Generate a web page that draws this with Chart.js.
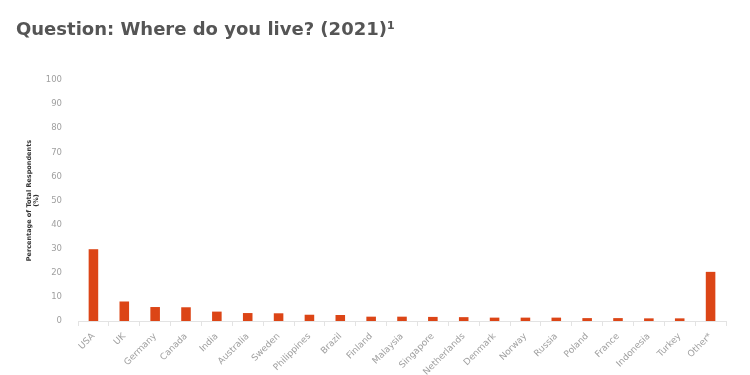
<!DOCTYPE html>
<html>
<head>
<meta charset="utf-8">
<script src="https://cdn.jsdelivr.net/npm/chart.js@4"></script>
<style>
  body { margin: 0; background: #fff; }
  #wrap { width: 750px; height: 375px; }
</style>
</head>
<body>
<div id="wrap"><canvas id="myBarChart" width="750" height="375"></canvas></div>
<script>
var paises = ['USA', 'UK', 'Germany', 'Canada', 'India', 'Australia', 'Sweden', 'Philippines', 'Brazil', 'Finland', 'Malaysia', 'Singapore', 'Netherlands', 'Denmark', 'Norway', 'Russia', 'Poland', 'France', 'Indonesia', 'Turkey', 'Other*'];
var percentuais = [29.8, 8.1, 5.8, 5.7, 3.9, 3.3, 3.2, 2.6, 2.5, 1.8, 1.8, 1.7, 1.6, 1.4, 1.4, 1.4, 1.2, 1.2, 1.1, 1.1, 20.4];
var yMin = 0;
var yMax = 100;
var yStep = 10;

var fonte = "'DejaVu Sans', Verdana, sans-serif";

var data = {
    labels: paises,
    datasets: [{
        label: 'Percentage of Total Respondents',
        data: percentuais,
        backgroundColor: '#dc4516',
        borderWidth: 0,
        barPercentage: 0.31,
        categoryPercentage: 1
    }]
};

// largura/altura fixas dos eixos para bater com a imagem
var options = {
    responsive: false,
    animation: false,
    layout: {
        padding: { left: 16, right: 24, top: 0, bottom: 0 }
    },
    plugins: {
        legend: { display: false },
        tooltip: { enabled: false },
        title: {
            display: true,
            text: 'Question: Where do you live? (2021)\u00b9',
            align: 'start',
            color: '#555555',
            font: { family: fonte, size: 18, weight: 'bold' },
            padding: { top: 20, bottom: 38.5 }
        }
    },
    scales: {
        x: {
            afterFit: function (scale) { scale.height = 54; },
            grid: {
                display: true,
                offset: true,
                drawOnChartArea: false,
                drawTicks: true,
                tickLength: 5,
                color: '#e3e3e3'
            },
            border: { display: true, color: '#e3e3e3' },
            ticks: {
                color: '#a0a0a0',
                font: { family: fonte, size: 9 },
                maxRotation: 45,
                minRotation: 45,
                autoSkip: false,
                padding: 5
            }
        },
        y: {
            min: yMin,
            max: yMax,
            afterFit: function (scale) { scale.width = 62; },
            grid: { display: false },
            border: { display: false },
            ticks: {
                stepSize: yStep,
                color: '#a0a0a0',
                font: { family: fonte, size: 8.5 },
                padding: 8
            },
            title: {
                display: true,
                text: ['Percentage of Total Respondents', '(%)'],
                color: '#333333',
                font: { family: fonte, size: 6.5, weight: 'bold' },
                padding: { top: 9, bottom: 10 }
            }
        }
    }
};

var ctx = document.getElementById('myBarChart').getContext('2d');
var myBarChart = new Chart(ctx, {
    type: 'bar',
    data: data,
    options: options
});
</script>
</body>
</html>
